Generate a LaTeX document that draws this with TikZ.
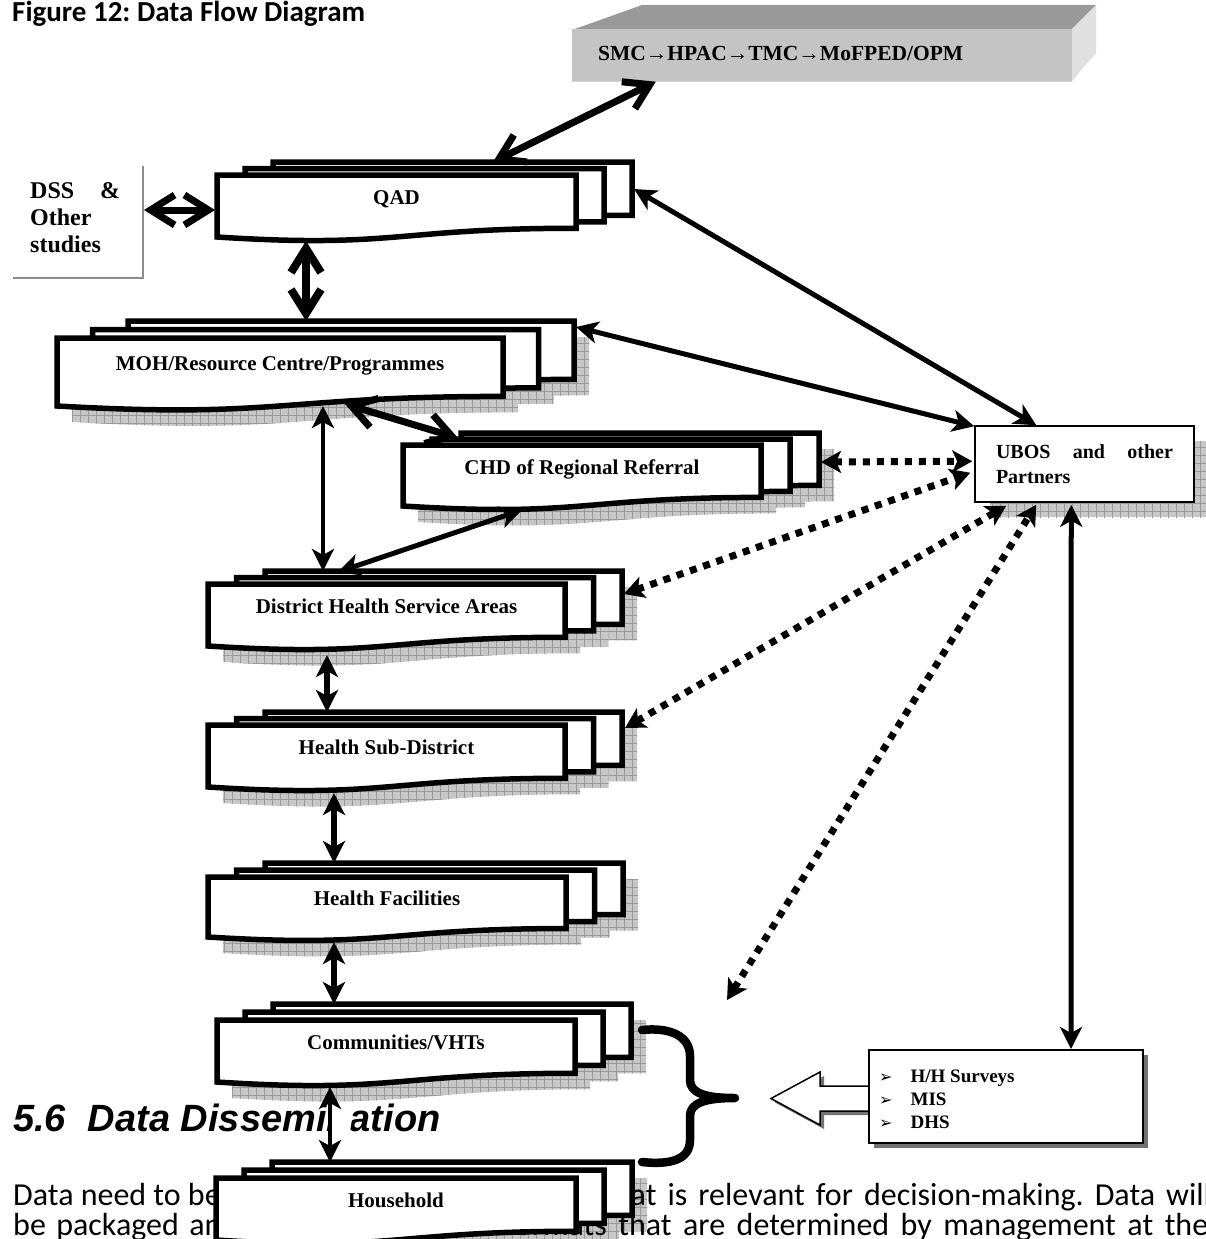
\documentclass[tikz,border=0pt]{standalone}
\usepackage{fontspec}
\setmainfont{Liberation Serif}
\newfontfamily\bodyfont{Carlito}
\newfontfamily\headfont{Liberation Sans}
\newfontfamily\dingfont{DejaVu Sans}
\usetikzlibrary{arrows.meta,patterns.meta}
\frenchspacing

% outline of a "document" page: top-left corner (#1,#2), width #3, left height #4
\newcommand\docpath[4]{({#1},{#2}) -- ({#1+#3},{#2}) -- ({#1+#3},{#2+0.859*#4})
  .. controls ({#1+0.5*#3},{#2+0.859*#4}) and ({#1+0.5*#3},{#2+1.186*#4}) .. ({#1},{#2+#4}) -- cycle}

% hatched drop shadow of a three-page stack: x y w h dx dy
\newcommand\stackshadow[6]{%
  \foreach \k in {2,1,0}{\path[gridshade] \docpath{#1+\k*(#5)+15}{#2+\k*(#6)+16}{#3}{#4};}}

% three stacked pages with a label on the front one: name x y w h dx dy label
\newcommand\docstack[8]{%
  \foreach \k/\s in {2/b,1/m,0/f}{%
    \draw[page] \docpath{#2+\k*(#6)}{#3+\k*(#7)}{#4}{#5};
    \path ({#2+\k*(#6)+0.5*(#4)},{#3+\k*(#7)+0.5*(#5)})
      node[pagebox,minimum width=#4,minimum height=#5] (#1-\s) {};}
  \node[lbl] (#1) at ({#2+0.5*(#4)},{#3+0.48*(#5)}) {#8};}

\newcommand\bul{{\dingfont\fontsize{16}{16}\selectfont ➢}}

\begin{document}
\begin{tikzpicture}[x=1pt,y=-1pt,
  page/.style={draw=black,line width=5.5pt,fill=white},
  pagebox/.style={inner sep=0pt,outer sep=0pt,draw=none},
  gridshade/.style={fill=black!22,
    postaction={pattern={Lines[angle=0,distance=8pt,line width=0.8pt]},pattern color=black!40},
    postaction={pattern={Lines[angle=90,distance=8pt,line width=0.8pt]},pattern color=black!40}},
  lbl/.style={font=\bfseries\fontsize{21}{24}\selectfont,inner sep=0pt,anchor=base},
  fat/.style={line width=7pt,>={Straight Barb[length=24pt,width=30pt]},<->},
  slim/.style={line width=5pt,>={Stealth[length=22pt,width=22pt,inset=6pt]},<->},
  dotty/.style={line width=7pt,dash pattern=on 7pt off 7pt,>={Stealth[length=20pt,width=22pt,inset=5pt]},<->},
  frame/.style={draw=black!45,line width=2pt},
  hollow/.style={draw=black,line width=1.5pt,fill=white,line join=miter},
  body/.style={font=\bodyfont\fontsize{32}{36}\selectfont,inner sep=0pt,anchor=base west},
  src/.style={font=\bfseries\fontsize{19}{22}\selectfont,inner sep=0pt,anchor=base west},
]
\useasboundingbox (0,0) rectangle (1206,1239);
\fill[white] (0,0) rectangle (1206,1239);

% caption
\node[font=\bodyfont\bfseries\fontsize{29}{32}\selectfont,inner sep=0pt,anchor=base west] (title) at (12,22) {Figure 12: Data Flow Diagram};

% bevelled grey bar at the top
\fill[black!40] (572,30) -- (642,5) -- (1096,5) -- (1072,29) -- cycle;
\fill[black!12] (1072,29) -- (1096,5) -- (1096,53) -- (1072,81) -- cycle;
\node[fill=black!23,minimum width=500,minimum height=52,inner sep=0pt] (smc) at (822,55.5) {};
\draw[black!16,line width=1.5pt] (smc.south west) -- (smc.south east);
\node[font=\bfseries\fontsize{21.5}{24}\selectfont,inner sep=0pt,anchor=base west] (smctext) at (598,61) {SMC→HPAC→TMC→MoFPED/OPM};

% studies box, only its right and bottom edges are drawn
\node[pagebox,minimum width=130,minimum height=112] (dss) at (78,222) {};
\draw[frame] (dss.north east) -- (dss.south east) -- (dss.south west);
\node[font=\bfseries\fontsize{24}{27}\selectfont,inner sep=0pt,anchor=north west,align=left] (dsstext) at (30,182) {\makebox[90pt][s]{DSS \&}\\Other\\studies};

% shadows
\stackshadow{57}{338}{446}{68}{35.5}{-8.5}
\stackshadow{403}{445}{358}{61}{29}{-6}
\stackshadow{208}{584}{357}{62}{28.5}{-6.5}
\stackshadow{208}{725}{357}{62}{28.5}{-6.5}
\stackshadow{208}{877}{358}{60}{28.5}{-7}
\stackshadow{217}{1020}{358}{62}{28}{-8}
\stackshadow{216}{1178}{360}{62}{28}{-8}
\path[gridshade] (990,441) rectangle (1209,517);
\fill[black!55] (874,1055) rectangle (1148,1148);
\fill[black!55] (873,1090) -- (824,1090) -- (824,1076) -- (775,1102.5) -- (824,1129) -- (824,1115) -- (873,1115) -- cycle;

% running text of the page
\node[font=\headfont\bfseries\itshape\fontsize{38}{40}\selectfont,inner sep=0pt,anchor=base west] (head) at (13,1131) {5.6\hspace{22pt}Data Dissemination};
\fill[white] (327,1137) -- (349,1137) -- (355,1102) -- (333,1102) -- cycle;
\node[body] (line1a) at (13,1205) {Data need to be};
\node[body] (line1b) at (603,1205) {\makebox[608pt][s]{that is relevant for decision-making. Data will}};
\node[body] (line2a) at (13,1235) {\makebox[225pt][s]{be packaged and}};
\node[body] (line2b) at (470,1235) {\makebox[738pt][s]{in formats that are determined by management at the}};

% page stacks
\docstack{qad}{217}{175}{359}{62}{28}{-6.5}{QAD}
\docstack{moh}{57}{338}{446}{68}{35.5}{-8.5}{MOH/Resource Centre/Programmes}
\docstack{chd}{403}{445}{358}{61}{29}{-6}{CHD of Regional Referral}
\docstack{dhsa}{208}{584}{357}{62}{28.5}{-6.5}{District Health Service Areas}
\docstack{hsd}{208}{725}{357}{62}{28.5}{-6.5}{Health Sub-District}
\docstack{hf}{208}{877}{358}{60}{28.5}{-7}{Health Facilities}
\docstack{comm}{217}{1020}{358}{62}{28}{-8}{Communities/VHTs}
\docstack{house}{216}{1178}{360}{62}{28}{-8}{Household}

% partners box
\node[draw=black,line width=1.5pt,fill=white,minimum width=219,minimum height=76,inner sep=0pt,
      font=\bfseries\fontsize{20}{25}\selectfont,align=left] (ubos) at (1084.5,464)
      {\makebox[177pt][s]{UBOS and other}\\Partners};

% survey sources box with the hollow arrow
\draw[hollow] (869,1086) -- (820,1086) -- (820,1072) -- (771,1098.5) -- (820,1125) -- (820,1111) -- (869,1111) -- cycle;
\node[draw=black,line width=2pt,fill=white,minimum width=274,minimum height=93,inner sep=0pt] (surveys) at (1006,1096.5) {};
\node[src] (src1) at (879,1082) {\bul\hspace{18pt}H/H Surveys};
\node[src] (src2) at (879,1105) {\bul\hspace{18pt}MIS};
\node[src] (src3) at (879,1128) {\bul\hspace{18pt}DHS};

% brace grouping the two lowest levels
\coordinate (bracetip) at (735,1098);
\coordinate (bracetop) at (727,1000);
\draw[line width=8.5pt,line cap=round,line join=round]
  (642,1030) .. controls (670,1027) and (690,1036) .. (690,1056) -- (690,1080)
  .. controls (690,1093) and (705,1098) .. (bracetip)
  .. controls (705,1098) and (690,1103) .. (690,1116) -- (690,1140)
  .. controls (690,1160) and (670,1165) .. (642,1162);

% links
\draw[fat] ([shift={(220,0)}]qad-b.north west) -- ([shift={(84,0)}]smc.south west);
\draw[fat] ([shift={(1,-12)}]dss.east) -- ([shift={(-2,4)}]qad-f.west);
\draw[fat,line width=8pt] ([shift={(89,4)}]qad-f.south west) -- ([shift={(178,0)}]moh-b.north west);
\draw[slim] ([shift={(2,27)}]qad-b.north east) -- ([shift={(62,0)}]ubos.north west);
\draw[slim] ([shift={(2,6)}]moh-b.north east) -- ([shift={(0,1)}]ubos.north west);
\draw[fat] ([shift={(288,-2)}]moh-f.south west) -- ([shift={(-3,5)}]chd-b.north west);
\draw[slim,line width=4.5pt] ([shift={(266,0)}]moh-f.south west) -- ([shift={(58,0)}]dhsa-b.north west);
\draw[slim] ([shift={(73,1)}]dhsa-b.north west) -- ([shift={(119,4)}]chd-f.south west);
\draw[slim,line width=5.5pt] ([shift={(119,9)}]dhsa-f.south west) -- ([shift={(62,0)}]hsd-b.north west);
\draw[slim,line width=5.5pt] ([shift={(126,6)}]hsd-f.south west) -- ([shift={(69,0)}]hf-b.north west);
\draw[slim,line width=5.5pt] ([shift={(126,5)}]hf-f.south west) -- ([shift={(61,0)}]comm-b.north west);
\draw[slim,line width=4pt] ([shift={(113,5)}]comm-f.south west) -- ([shift={(58,0)}]house-b.north west);
\draw[slim] ([shift={(97,2)}]ubos.south west) -- ([shift={(203,0)}]surveys.north west);

% dotted links to the partners
\draw[dotty] ([shift={(2,29)}]chd-b.north east) -- ([shift={(-2,36)}]ubos.north west);
\draw[dotty] ([shift={(2,23)}]dhsa-b.north east) -- ([shift={(-4,-30)}]ubos.south west);
\draw[dotty] ([shift={(3,16)}]hsd-b.north east) -- ([shift={(32,3)}]ubos.south west);
\draw[dotty] (bracetop) -- ([shift={(62,2)}]ubos.south west);
\end{tikzpicture}
\end{document}
